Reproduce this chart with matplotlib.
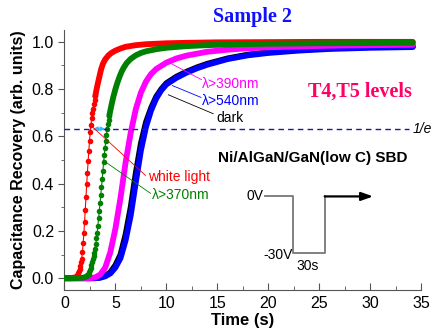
import matplotlib
matplotlib.use('Agg')
import matplotlib.pyplot as plt
from matplotlib.ticker import MultipleLocator

plt.rcParams['font.family'] = ['Liberation Sans', 'DejaVu Sans']

# white light (red): leading flat, dotted steep part, then saturation
red_t = [0, 0.6, 1.2, 1.27, 1.34, 1.41, 1.48, 1.55, 1.62, 1.69, 1.76, 1.83, 1.90,
         1.97, 2.04, 2.11, 2.18, 2.25, 2.32, 2.39, 2.46, 2.53, 2.60, 2.67, 2.74,
         2.81, 2.88, 2.95, 3.02, 3.2, 3.4, 3.6, 3.8, 4.0, 4.3, 4.6, 5.0, 5.5, 6.0,
         7, 8, 10, 12, 15, 20, 25, 30, 34.2]
red_y = [0, 0, 0.005, 0.012, 0.020, 0.030, 0.041, 0.053, 0.067, 0.083, 0.110,
         0.148, 0.190, 0.238, 0.290, 0.345, 0.398, 0.447, 0.495, 0.540, 0.582,
         0.620, 0.650, 0.676, 0.698, 0.718, 0.737, 0.754, 0.770, 0.810, 0.848,
         0.885, 0.910, 0.926, 0.942, 0.953, 0.963, 0.972, 0.979, 0.986, 0.990,
         0.994, 0.996, 0.998, 0.999, 1.0, 1.0, 1.0]
red_dots = (2, 28)

# lambda > 370 nm (green)
green_t = [0, 1, 1.8, 2.0, 2.15, 2.30, 2.37, 2.44, 2.51, 2.58, 2.65, 2.72, 2.79,
           2.86, 2.93, 3.00, 3.07, 3.14, 3.21, 3.28, 3.35, 3.42, 3.49, 3.56, 3.63,
           3.70, 3.77, 3.84, 3.91, 3.98, 4.05, 4.12, 4.19, 4.26, 4.33, 4.40, 4.6,
           4.8, 5.0, 5.2, 5.4, 5.6, 5.8, 6.1, 6.5, 7.0, 7.5, 8, 9, 10, 12, 14, 17,
           20, 25, 30, 34.2]
green_y = [0, 0, 0.002, 0.004, 0.007, 0.012, 0.018, 0.026, 0.035, 0.045, 0.056,
           0.068, 0.080, 0.092, 0.108, 0.125, 0.145, 0.168, 0.193, 0.222, 0.254,
           0.286, 0.318, 0.352, 0.386, 0.420, 0.455, 0.490, 0.522, 0.552, 0.580,
           0.606, 0.630, 0.651, 0.670, 0.688, 0.730, 0.768, 0.800, 0.828, 0.852,
           0.873, 0.890, 0.910, 0.928, 0.943, 0.953, 0.960, 0.969, 0.975, 0.982,
           0.986, 0.990, 0.992, 0.994, 0.995, 0.996]
green_dots = (5, 35)

# lambda > 390 nm (magenta)
mag_t = [0, 2.5, 3.0, 3.5, 4.0, 4.5, 5.0, 5.5, 6.0, 6.5, 7.0, 7.5, 8.0, 8.5, 9,
         10, 11, 12, 14, 16, 18, 20, 24, 28, 34.2]
mag_y = [0, 0, 0.003, 0.015, 0.045, 0.11, 0.21, 0.34, 0.49, 0.615, 0.715, 0.785,
         0.832, 0.864, 0.885, 0.912, 0.93, 0.942, 0.958, 0.967, 0.973, 0.977,
         0.982, 0.985, 0.988]

# lambda > 540 nm (blue) and dark (black)
dk_t = [0, 3.0, 3.5, 4.0, 4.5, 5.0, 5.5, 6.0, 6.5, 7.0, 7.5, 8.0, 8.5, 9.0, 9.5,
        10, 11, 12, 13, 14, 16, 18, 20, 23, 26, 30, 34.2]
blue_y = [0, 0, 0.002, 0.008, 0.02, 0.045, 0.085, 0.16, 0.265, 0.405, 0.54, 0.64,
          0.71, 0.76, 0.795, 0.82, 0.848, 0.87, 0.888, 0.903, 0.927, 0.943,
          0.953, 0.963, 0.970, 0.975, 0.978]
dark_y = [0, 0, 0.003, 0.010, 0.025, 0.055, 0.10, 0.185, 0.30, 0.445, 0.57, 0.66,
          0.72, 0.768, 0.80, 0.825, 0.853, 0.874, 0.892, 0.907, 0.930, 0.946,
          0.956, 0.966, 0.973, 0.978, 0.981]

one_over_e = 0.632

fig = plt.figure(figsize=(4.34, 3.35), dpi=100)
ax = fig.add_axes([0.1486, 0.1343, 0.8214, 0.776])

band = 4.2
ax.plot(dk_t, dark_y, '-', color='black', lw=band, solid_capstyle='round', zorder=2)
ax.plot(dk_t, blue_y, '-', color='#0000ff', lw=band, solid_capstyle='round', zorder=3)
ax.plot(mag_t, mag_y, '-', color='#ff00ff', lw=band, solid_capstyle='round', zorder=4)

for t, y, (i0, i1), c, z in [(red_t, red_y, red_dots, '#ff0000', 5),
                             (green_t, green_y, green_dots, '#008000', 6)]:
    ax.plot(t[:i0 + 1], y[:i0 + 1], '-', color=c, lw=band, solid_capstyle='round', zorder=z)
    ax.plot(t[i1:], y[i1:], '-', color=c, lw=band, solid_capstyle='round', zorder=z)
    ax.plot(t[i0:i1 + 1], y[i0:i1 + 1], '-o', color=c, lw=0.8, ms=4, mew=0, zorder=z)

# 1/e level
ax.plot([0, 33.8], [one_over_e, one_over_e], color='#1a1a99', lw=1, ls=(0, (4, 3)), zorder=7)
ax.text(34.2, one_over_e, '1/e', style='italic', fontsize=10, ha='left', va='center')
ax.annotate('', xy=(2.8, one_over_e), xytext=(4.0, one_over_e),
            arrowprops=dict(arrowstyle='<|-|>,head_length=0.25,head_width=0.12',
                            color='#33bbff', lw=1, shrinkA=0, shrinkB=0), zorder=8)

# curve labels with pointer lines
labels = [('λ>390nm', '#ff00ff', (10.3, 0.912), (13.45, 0.84), (13.5, 0.823)),
          ('λ>540nm', '#0000ff', (10.6, 0.815), (13.4, 0.765), (13.5, 0.751)),
          ('dark', 'black', (10.2, 0.776), (14.6, 0.696), (14.9, 0.679)),
          ('white light', '#ff0000', (2.6, 0.646), (7.95, 0.435), (8.24, 0.43)),
          ('λ>370nm', '#008000', (3.95, 0.494), (8.45, 0.359), (8.63, 0.35))]
for txt, c, p0, p1, pt in labels:
    ax.plot([p0[0], p1[0]], [p0[1], p1[1]], color=c, lw=0.6, zorder=8)
    ax.text(pt[0], pt[1], txt, color=c, fontsize=10, ha='left', va='center')

ax.text(15.1, 0.51, 'Ni/AlGaN/GaN(low C) SBD', fontsize=11, fontweight='bold',
        ha='left', va='center')
ax.text(23.9, 0.79, 'T4,T5 levels', family='Liberation Serif', fontsize=14.5,
        fontweight='bold', color='#ff0066', ha='left', va='center')

# bias pulse sketch
ax.plot([19.7, 22.45, 22.45, 25.6, 25.6], [0.346, 0.346, 0.105, 0.105, 0.346],
        color='#777777', lw=1.3)
ax.annotate('', xy=(30.3, 0.346), xytext=(25.55, 0.346),
            arrowprops=dict(arrowstyle='-|>,head_length=0.7,head_width=0.25',
                            color='black', lw=1.6, shrinkA=0, shrinkB=0))
ax.text(19.5, 0.346, '0V', fontsize=10, ha='right', va='center')
ax.text(22.4, 0.097, '-30V', fontsize=10, ha='right', va='center')
ax.text(22.75, 0.05, '30s', fontsize=10, ha='left', va='center')

ax.set_xlim(0, 35)
ax.set_ylim(-0.05, 1.05)
ax.xaxis.set_major_locator(MultipleLocator(5))
ax.xaxis.set_minor_locator(MultipleLocator(2.5))
ax.yaxis.set_major_locator(MultipleLocator(0.2))
ax.yaxis.set_minor_locator(MultipleLocator(0.1))
ax.yaxis.set_major_formatter(matplotlib.ticker.FormatStrFormatter('%.1f'))
for s in ['top', 'right']:
    ax.spines[s].set_visible(False)
for s in ['left', 'bottom']:
    ax.spines[s].set_color('#555555')
ax.tick_params(axis='x', which='both', direction='in', color='#555555', labelsize=11.5, pad=4)
ax.tick_params(axis='x', which='major', length=5)
ax.tick_params(axis='x', which='minor', length=3)
ax.tick_params(axis='y', which='both', direction='out', color='#555555', labelsize=11.5)
ax.tick_params(axis='y', which='major', length=4)
ax.tick_params(axis='y', which='minor', length=2.5)

ax.set_xlabel('Time (s)', fontsize=12, fontweight='bold', labelpad=2)
ax.set_ylabel('Capacitance Recovery (arb. units)', fontsize=11.5, fontweight='bold', labelpad=4)

fig.text(252 / 434, 1 - 17 / 335, 'Sample 2', family='Liberation Serif', fontsize=14.5,
         fontweight='bold', color='#1010ff', ha='center', va='center')

fig.savefig('out.png', dpi=100)
